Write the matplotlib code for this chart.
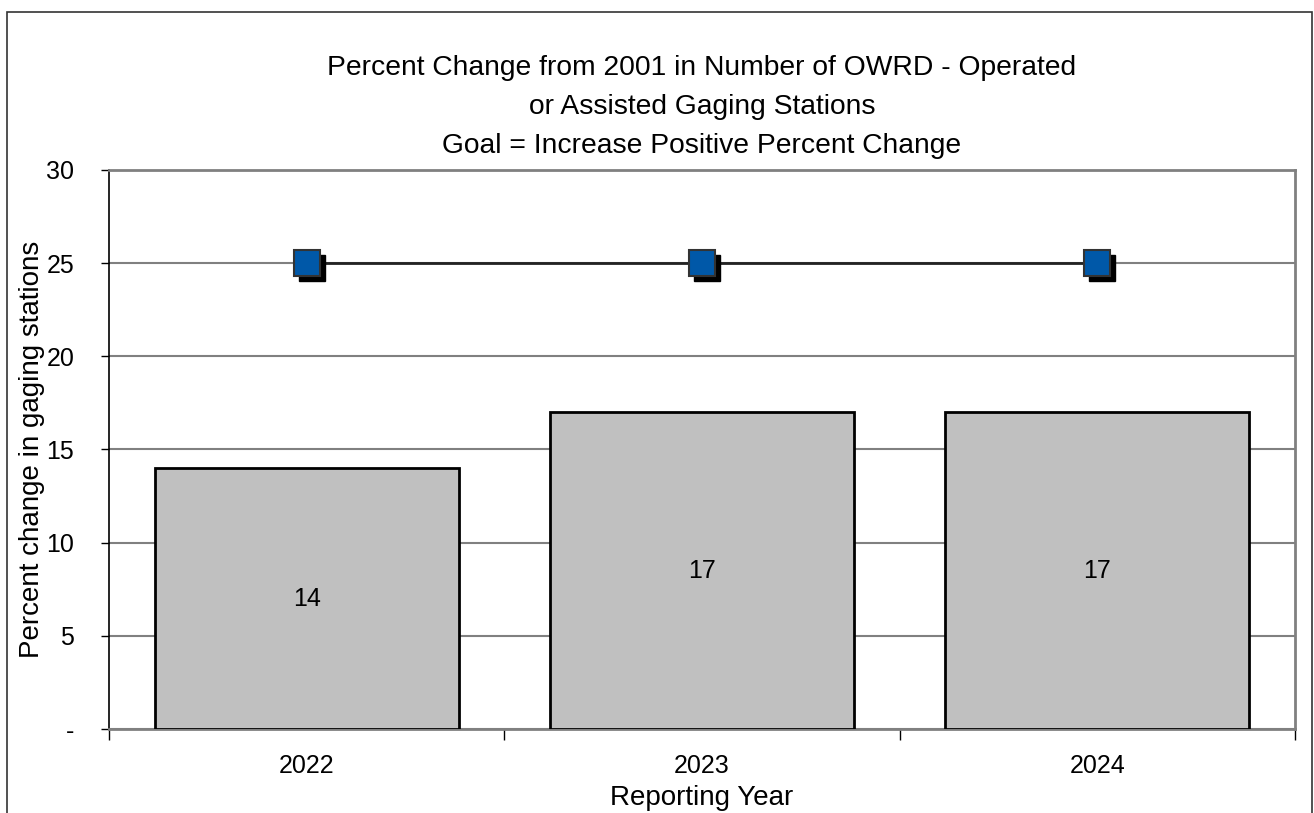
import matplotlib.pyplot as plt
import matplotlib.transforms as mtransforms
from matplotlib.patches import Rectangle

# chart data
years = ['2022', '2023', '2024']
pct_change = [14, 17, 17]
goal = [25, 25, 25]
y_ticks = [0, 5, 10, 15, 20, 25, 30]
y_tick_labels = ['-', '5', '10', '15', '20', '25', '30']

plt.rcParams['font.family'] = ['Liberation Sans', 'DejaVu Sans']

fig = plt.figure(figsize=(13.14, 8.13), dpi=100)
ax = fig.add_axes([0.083, 0.1033, 0.9025, 0.6877])

x = list(range(len(years)))
bars = ax.bar(x, pct_change, width=0.77, color='#c0c0c0', edgecolor='black', linewidth=2, zorder=3)
for xi, v in zip(x, pct_change):
    ax.text(xi, v / 2, str(v), ha='center', va='center', fontsize=18, zorder=4)

ax.plot(x, goal, color='#222222', linewidth=2, zorder=4)
# marker shadows
shadow = mtransforms.offset_copy(ax.transData, fig=fig, x=5, y=-5, units='dots')
ax.plot(x, goal, linestyle='none', marker='s', markersize=19, color='black', transform=shadow, zorder=5)
ax.plot(x, goal, linestyle='none', marker='s', markersize=19, markerfacecolor='#0058a8',
        markeredgecolor='#333333', markeredgewidth=1.5, zorder=6)

ax.set_xlim(-0.5, 2.5)
ax.set_ylim(0, 30)
ax.set_yticks(y_ticks)
ax.set_yticklabels(y_tick_labels, fontsize=18)
ax.yaxis.grid(True, color='#808080', linewidth=1.5, zorder=0)
ax.tick_params(axis='y', direction='out', length=6, width=1, pad=19)

ax.set_xticks(x)
ax.set_xticklabels(years, fontsize=18)
ax.tick_params(axis='x', length=0, pad=18)
ax.set_xticks([-0.5, 0.5, 1.5, 2.5], minor=True)
ax.tick_params(axis='x', which='minor', direction='out', length=8, width=1)

for side in ['top', 'right']:
    ax.spines[side].set_color('#808080')
    ax.spines[side].set_linewidth(2)
ax.spines['bottom'].set_color('#808080')
ax.spines['bottom'].set_linewidth(2)
ax.spines['left'].set_color('black')
ax.spines['left'].set_linewidth(1.2)

ax.set_xlabel('Reporting Year', fontsize=20, labelpad=5)
ax.set_ylabel('Percent change in gaging stations', fontsize=20, labelpad=1)
ax.set_title('Percent Change from 2001 in Number of OWRD - Operated\nor Assisted Gaging Stations\nGoal = Increase Positive Percent Change',
             fontsize=20.3, linespacing=1.66, pad=12)

fig.patches.append(Rectangle((7 / 1314, -0.05), 1305 / 1314, 1.05 - 12 / 813, transform=fig.transFigure,
                             fill=False, edgecolor='#333333', linewidth=1.2))

fig.savefig('out.png', dpi=100)
